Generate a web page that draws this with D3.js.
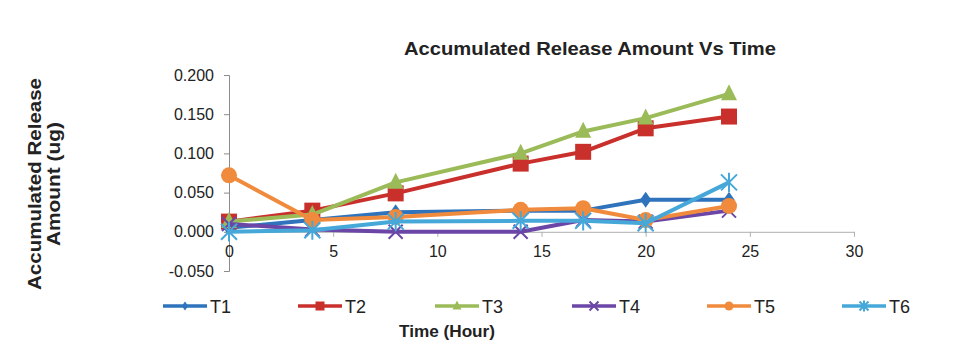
<!DOCTYPE html>
<html>
<head>
<meta charset="utf-8">
<script src="https://cdn.jsdelivr.net/npm/d3@7"></script>
<style>
  html, body { margin: 0; padding: 0; background: #fff; }
  svg { display: block; font-family: "Liberation Sans", Arial, sans-serif; }
</style>
</head>
<body>
<svg id="chart" width="961" height="364"></svg>
<script>
// Sampling times (hours)
const hours = [0, 4, 8, 14, 17, 20, 24];

// Accumulated release (ug) for each formulation
const T1 = [0.005, 0.015, 0.025, 0.027, 0.027, 0.041, 0.041];
const T2 = [0.013, 0.027, 0.049, 0.087, 0.102, 0.132, 0.147];
const T3 = [0.013, 0.022, 0.063, 0.100, 0.128, 0.145, 0.176];
const T4 = [0.010, 0.003, 0.000, 0.000, 0.015, 0.013, 0.027];
const T5 = [0.072, 0.015, 0.019, 0.028, 0.030, 0.015, 0.033];
const T6 = [0.000, 0.002, 0.013, 0.014, 0.014, 0.011, 0.063];

const seriesNames = ["T1", "T2", "T3", "T4", "T5", "T6"];
const seriesValues = [T1, T2, T3, T4, T5, T6];

const yTicks = [-0.05, 0, 0.05, 0.1, 0.15, 0.2];
const xTicks = [0, 5, 10, 15, 20, 25, 30];

const colors = ["#2f73bd", "#c9302c", "#9bbb59", "#6b46a6", "#f08a3c", "#45a8d9"];
const markers = ["diamond", "square", "triangle", "x", "circle", "asterisk"];

const FONT = "\"Liberation Sans\", Arial, sans-serif";
const svg = d3.select("#chart");

const x = d3.scaleLinear().domain([0, 30]).range([229, 854]);
const y = d3.scaleLinear().domain([-0.05, 0.2]).range([271, 75]);

// Title
svg.append("text")
  .attr("x", 590).attr("y", 55)
  .attr("text-anchor", "middle")
  .attr("font-size", 18.5).attr("font-weight", "bold").attr("fill", "#222")
  .attr("textLength", 372).attr("lengthAdjust", "spacingAndGlyphs")
  .text("Accumulated Release Amount Vs Time");

// Y axis title (two lines, rotated)
const yTitle = svg.append("text")
  .attr("transform", "translate(41,184) rotate(-90)")
  .attr("text-anchor", "middle")
  .attr("font-size", 18).attr("font-weight", "bold").attr("fill", "#222");
yTitle.append("tspan").attr("x", 0).attr("dy", 0)
  .attr("textLength", 212).attr("lengthAdjust", "spacingAndGlyphs")
  .text("Accumulated Release");
yTitle.append("tspan").attr("x", 0).attr("dy", 19)
  .attr("textLength", 124).attr("lengthAdjust", "spacingAndGlyphs")
  .text("Amount (ug)");

// Y axis
const yAxis = svg.append("g")
  .attr("transform", `translate(${x(0)},0)`)
  .call(d3.axisLeft(y).tickValues(yTicks).tickSize(5).tickPadding(10));
yAxis.select(".domain").attr("stroke", "#8c8c8c");
yAxis.selectAll(".tick line").attr("stroke", "#8c8c8c");
yAxis.selectAll(".tick text")
  .attr("font-size", 16).attr("fill", "#222").attr("font-family", FONT)
  .text(d => (d < 0 ? "-" : "") + d3.format(".3f")(Math.abs(d)));

// X axis at zero
const xAxis = svg.append("g")
  .attr("transform", `translate(0,${y(0)})`)
  .call(d3.axisBottom(x).tickValues(xTicks).tickSize(5).tickPadding(9).tickSizeOuter(0));
xAxis.select(".domain").attr("stroke", "#b0b0b0");
xAxis.selectAll(".tick line").attr("stroke", "#b0b0b0");
xAxis.selectAll(".tick text")
  .attr("font-size", 16).attr("fill", "#222").attr("font-family", FONT);

// Marker drawing
function drawMarker(g, type, color, size) {
  const s = size;
  switch (type) {
    case "diamond":
      g.append("path").attr("d", `M0,${-s}L${s * 0.7},0L0,${s}L${-s * 0.7},0Z`).attr("fill", color);
      break;
    case "square":
      g.append("rect").attr("x", -s).attr("y", -s).attr("width", 2 * s).attr("height", 2 * s).attr("fill", color);
      break;
    case "triangle":
      g.append("path").attr("d", `M0,${-s * 1.2}L${s},${s * 0.8}L${-s},${s * 0.8}Z`).attr("fill", color);
      break;
    case "x":
      g.append("path").attr("d", `M${-s},${-s}L${s},${s}M${s},${-s}L${-s},${s}`)
        .attr("stroke", color).attr("stroke-width", 2).attr("fill", "none");
      break;
    case "circle":
      g.append("circle").attr("r", s).attr("fill", color);
      break;
    case "asterisk":
      g.append("path").attr("d", `M${-s},${-s}L${s},${s}M${s},${-s}L${-s},${s}M0,${-s * 1.2}L0,${s * 1.2}`)
        .attr("stroke", color).attr("stroke-width", 2).attr("fill", "none");
      break;
  }
}

const markerSize = [8, 8, 8, 7, 8, 8];

const line = d3.line().x(d => x(d[0])).y(d => y(d[1]));

const plot = svg.append("g");
seriesValues.forEach((vals, i) => {
  const pts = hours.map((h, j) => [h, vals[j]]);
  plot.append("path")
    .datum(pts)
    .attr("d", line)
    .attr("fill", "none")
    .attr("stroke", colors[i])
    .attr("stroke-width", 4)
    .attr("stroke-linejoin", "round");
  pts.forEach(p => {
    const g = plot.append("g").attr("transform", `translate(${x(p[0])},${y(p[1])})`);
    drawMarker(g, markers[i], colors[i], markerSize[i]);
  });
});

// Legend
const legendX = [163, 298, 435, 572, 707, 842];
const legendY = 306;
seriesNames.forEach((name, i) => {
  const g = svg.append("g").attr("transform", `translate(${legendX[i]},${legendY})`);
  g.append("line").attr("x1", 0).attr("x2", 44).attr("y1", 0).attr("y2", 0)
    .attr("stroke", colors[i]).attr("stroke-width", 3.5);
  const m = g.append("g").attr("transform", "translate(22,0)");
  drawMarker(m, markers[i], colors[i], 4.5);
  g.append("text").attr("x", 47).attr("y", 6.5)
    .attr("font-size", 18).attr("fill", "#222").text(name);
});

// X axis title
svg.append("text")
  .attr("x", 447).attr("y", 337)
  .attr("text-anchor", "middle")
  .attr("font-size", 17).attr("font-weight", "bold").attr("fill", "#222")
  .attr("textLength", 96).attr("lengthAdjust", "spacingAndGlyphs")
  .text("Time (Hour)");
</script>
</body>
</html>
